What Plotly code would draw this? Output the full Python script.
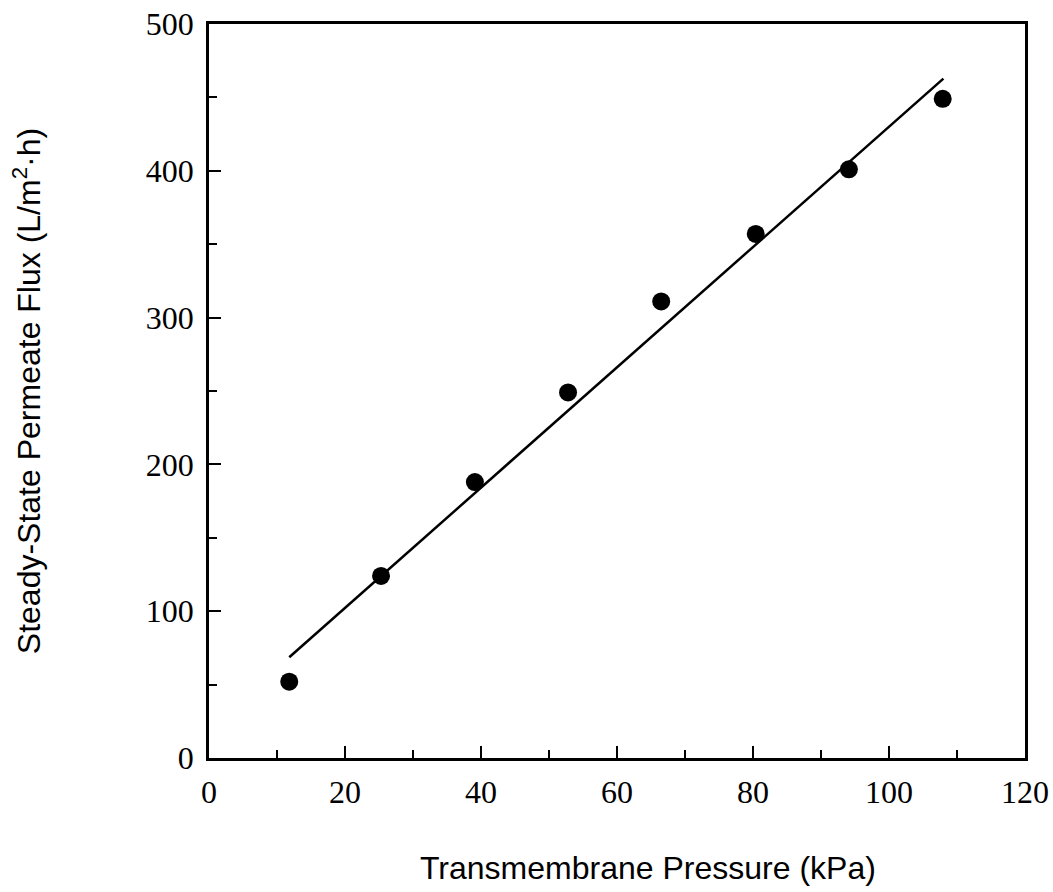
import plotly.graph_objects as go

# Data
pressure_kpa = [11.8, 25.3, 39.1, 52.8, 66.5, 80.4, 94.1, 107.9]
flux = [52, 124, 188, 249, 311, 357, 401, 449]

# Fitted line endpoints
fit_x = [11.8, 108.0]
fit_y = [68.6, 462.8]

x_tick_vals = [0, 20, 40, 60, 80, 100, 120]
y_tick_vals = [0, 100, 200, 300, 400, 500]

x_title = "Transmembrane Pressure (kPa)"
y_title = "Steady-State Permeate Flux (L/m<sup>2</sup>·h)"

fig = go.Figure()
fig.add_trace(go.Scatter(x=fit_x, y=fit_y, mode="lines",
                         line=dict(color="black", width=2.5), showlegend=False))
fig.add_trace(go.Scatter(x=pressure_kpa, y=flux, mode="markers",
                         marker=dict(color="black", size=18), showlegend=False))

axis_common = dict(
    showgrid=False, zeroline=False, showline=True, linecolor="black",
    linewidth=2.5, mirror=True, ticks="inside", ticklen=12, tickwidth=2,
    tickcolor="black", automargin=False,
    tickfont=dict(family="Liberation Serif", size=32, color="black"),
)

fig.update_xaxes(range=[0, 120], tickvals=x_tick_vals,
                 minor=dict(dtick=10, ticks="inside", ticklen=8, tickwidth=2, tickcolor="black"),
                 ticklabelstandoff=4,
                 **axis_common)
fig.update_yaxes(range=[0, 500], tickvals=y_tick_vals,
                 minor=dict(dtick=50, ticks="inside", ticklen=8, tickwidth=2, tickcolor="black"),
                 ticklabelstandoff=6,
                 title=dict(text=y_title,
                            font=dict(family="Liberation Sans", size=32, color="black"),
                            standoff=96),
                 **axis_common)

fig.add_annotation(text=x_title, xref="paper", yref="paper",
                   x=0.538, y=-0.15, xanchor="center", yanchor="middle",
                   showarrow=False,
                   font=dict(family="Liberation Sans", size=32, color="black"))

fig.update_layout(
    width=1053, height=892,
    margin=dict(l=209, r=28, t=24, b=134),
    paper_bgcolor="white", plot_bgcolor="white",
)

fig.write_html("out.html")
